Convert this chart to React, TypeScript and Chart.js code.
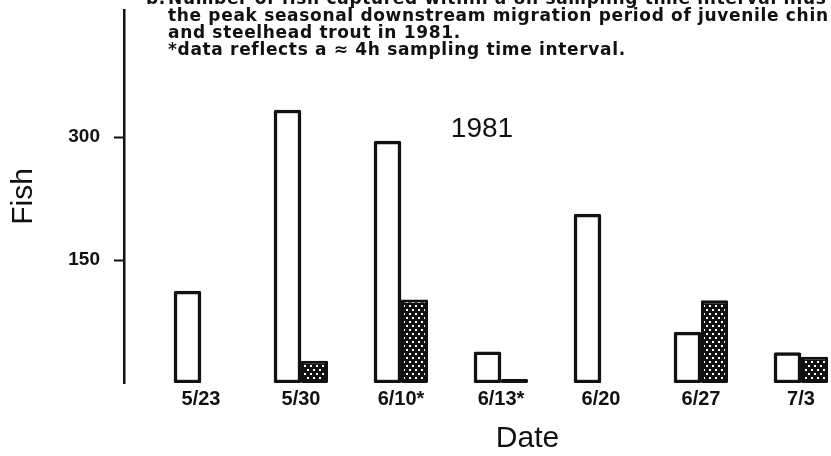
import React, { useEffect, useRef } from "react";
import { Chart, registerables } from "chart.js";

Chart.register(...registerables);

// ---- data ----
const DATES = ["5/23", "5/30", "6/10*", "6/13*", "6/20", "6/27", "7/3"];
const OPEN_BARS: (number | null)[] = [112, 333, 295, 38, 206, 62, 37];
const STIPPLED_BARS: (number | null)[] = [null, 27, 102, 0, null, 101, 32];
const Y_TICKS = [150, 300];
const Y_MAX = 455;
const Y_TITLE = "Fish";
const X_TITLE = "Date";
const YEAR_LABEL = "1981";
const CAPTION_MARK = "b.";
const CAPTION_LINES = [
  "Number of fish captured within a 8h sampling time interval illus",
  "the peak seasonal downstream migration period of juvenile chin",
  "and steelhead trout in 1981.",
  "*data reflects a \u2248 4h sampling time interval.",
];

// ---- style ----
const INK = "#111111";
const FONT = "'Liberation Sans', Arial, Helvetica, sans-serif";
const CAPTION_FONT = "'DejaVu Sans', 'Liberation Sans', sans-serif";
const CANVAS_W = 931;
const CANVAS_H = 456;

function makeStipple(): CanvasPattern | string {
  const tile = document.createElement("canvas");
  tile.width = 6;
  tile.height = 8;
  const c = tile.getContext("2d");
  if (!c) return INK;
  c.fillStyle = INK;
  c.fillRect(0, 0, 6, 8);
  c.fillStyle = "#ffffff";
  c.fillRect(1, 1, 2, 2);
  c.fillRect(4, 5, 2, 2);
  const ctx = document.createElement("canvas").getContext("2d");
  return (ctx && ctx.createPattern(tile, "repeat")) || INK;
}

const annotations = {
  id: "annotations",
  afterDraw(chart: any) {
    const ctx: CanvasRenderingContext2D = chart.ctx;
    const xs = chart.scales.x;
    const ys = chart.scales.y;
    ctx.save();
    ctx.fillStyle = INK;
    // year label inside plot
    ctx.font = `28px ${FONT}`;
    ctx.textAlign = "center";
    ctx.textBaseline = "middle";
    ctx.fillText(YEAR_LABEL, xs.getPixelForValue(2.81), ys.getPixelForValue(310));

    // caption above the plot (letter-spaced, like the typed original)
    ctx.font = `bold 17px ${CAPTION_FONT}`;
    ctx.textAlign = "left";
    ctx.textBaseline = "alphabetic";
    const ref = CAPTION_LINES[1];
    let natural = 0;
    for (const ch of ref) natural += ctx.measureText(ch).width;
    const spacing = (660 - natural) / (ref.length - 1);
    const drawSpaced = (text: string, x0: number, yb: number) => {
      let cx = x0;
      for (const ch of text) {
        ctx.fillText(ch, cx, yb);
        cx += ctx.measureText(ch).width + spacing;
      }
    };
    drawSpaced(CAPTION_MARK, 146, 4);
    CAPTION_LINES.forEach((line, i) => drawSpaced(line, 168, 4 + 17 * i));
    ctx.restore();
  },
};

export default function App() {
  const canvasRef = useRef<HTMLCanvasElement | null>(null);

  useEffect(() => {
    const canvas = canvasRef.current;
    if (!canvas) return;
    Chart.defaults.font.family = FONT;
    const stipple = makeStipple();

    const chart = new Chart(canvas, {
      type: "bar",
      data: {
        datasets: [
          {
            label: "open",
            data: OPEN_BARS.map((v, i) => ({ x: i, y: v })),
            backgroundColor: "#ffffff",
            borderColor: INK,
            borderWidth: 3.5,
            borderSkipped: false,
            borderRadius: 2,
            barThickness: 27,
          },
          {
            label: "stippled",
            data: STIPPLED_BARS.map((v, i) => ({ x: i, y: v })),
            backgroundColor: stipple as any,
            borderColor: INK,
            borderWidth: 3,
            borderSkipped: false,
            borderRadius: 1,
            barThickness: 27,
            minBarLength: 4,
            inflateAmount: 0,
          },
        ],
      } as any,
      options: {
        animation: false,
        responsive: false,
        events: [],
        layout: { padding: { top: 10, left: 0, right: 0, bottom: 0 } },
        plugins: {
          legend: { display: false },
          tooltip: { enabled: false },
          title: { display: false },
        },
        scales: {
          x: {
            type: "linear",
            offset: false,
            min: -0.77,
            max: 7.3,
            afterFit: (s: any) => {
              s.height = 73;
              s.paddingLeft = 0;
              s.paddingRight = 0;
            },
            afterBuildTicks: (s: any) => {
              s.ticks = DATES.map((_, i) => ({ value: i }));
            },
            grid: { display: false, drawTicks: false, offset: false },
            border: { display: false },
            ticks: {
              color: INK,
              font: { size: 20, weight: "bold" },
              padding: 4,
              autoSkip: false,
              maxRotation: 0,
              callback: (_v: any, i: number) => DATES[i] ?? "",
            },
            title: {
              display: true,
              text: X_TITLE,
              color: INK,
              font: { size: 30, lineHeight: 1 },
              padding: { top: 0, bottom: 2 },
            },
          },
          y: {
            type: "linear",
            min: 0,
            max: Y_MAX,
            afterFit: (s: any) => {
              s.width = 124;
              s.paddingTop = 0;
              s.paddingBottom = 0;
            },
            afterBuildTicks: (s: any) => {
              s.ticks = Y_TICKS.map((v) => ({ value: v }));
            },
            grid: {
              drawOnChartArea: false,
              drawTicks: true,
              tickLength: 10,
              tickWidth: 2,
              tickColor: INK,
            },
            border: { display: true, color: INK, width: 2.5 },
            ticks: {
              color: INK,
              font: { size: 19, weight: "bold" },
              padding: 14,
              callback: (v: any) => String(v),
            },
            title: {
              display: true,
              text: Y_TITLE,
              color: INK,
              font: { size: 30, lineHeight: 1 },
              padding: { top: 9, bottom: 0 },
            },
          },
        },
      } as any,
      plugins: [annotations],
    });

    return () => chart.destroy();
  }, []);

  return (
    <div
      style={{
        position: "fixed",
        left: 0,
        top: 0,
        width: 831,
        height: 456,
        overflow: "hidden",
        background: "#ffffff",
      }}
    >
      <canvas
        ref={canvasRef}
        width={CANVAS_W}
        height={CANVAS_H}
        style={{ display: "block", width: CANVAS_W, height: CANVAS_H }}
      />
    </div>
  );
}
